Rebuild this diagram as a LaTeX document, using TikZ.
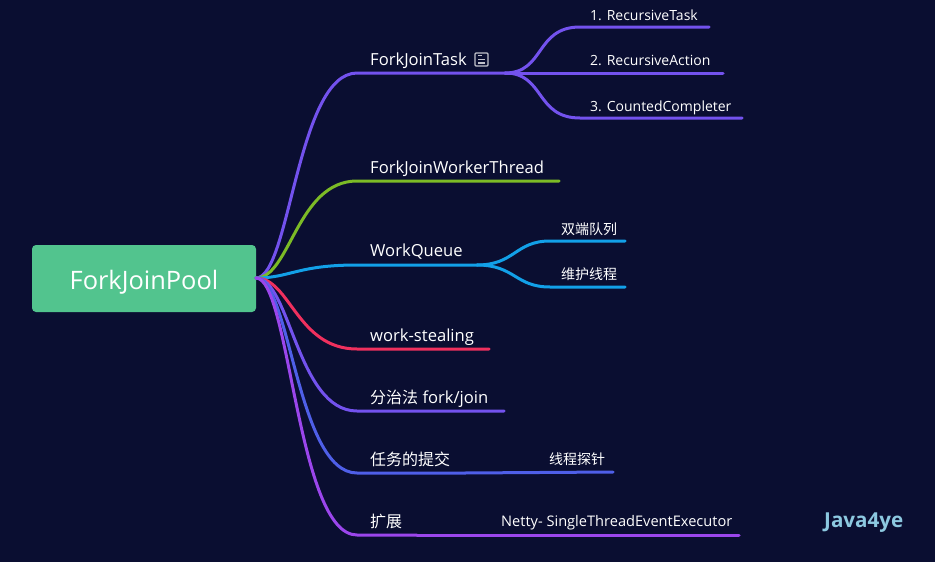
\documentclass[tikz,border=0pt]{standalone}
\usepackage{fontspec}
\setmainfont{Open Sans}
\newfontfamily\cjkfont{Noto Sans CJK SC}
\usetikzlibrary{positioning}
\definecolor{canvas}{HTML}{0A0E31}
\definecolor{rootgreen}{HTML}{52C48E}
\definecolor{violetline}{HTML}{7352EE}
\definecolor{greenline}{HTML}{7CBB26}
\definecolor{blueline}{HTML}{12A0E8}
\definecolor{redline}{HTML}{F0305E}
\definecolor{slateline}{HTML}{4F5FE8}
\definecolor{purpleline}{HTML}{9B46EC}
\definecolor{markblue}{HTML}{8CC8E0}
\tikzset{
  root/.style={
    rectangle,
    rounded corners=4pt,
    fill=rootgreen,
    text=white,
    minimum width=224pt,
    minimum height=67pt,
    inner sep=0pt,
    text height=21pt,
    text depth=0pt,
    font=\fontsize{25.4}{30}\selectfont
  },
  topic/.style={
    anchor=base west,
    text=white,
    inner sep=0pt,
    font=\fontsize{16.6}{20}\selectfont
  },
  leaf/.style={
    anchor=base west,
    text=white,
    inner sep=0pt,
    font=\fontsize{14}{17}\selectfont
  },
  branch/.style={line width=3pt, draw=#1, line cap=round}
}

\begin{document}
\begin{tikzpicture}[x=1pt,y=-1pt]

\fill[canvas] (0,0) rectangle (935,562);
\useasboundingbox (0,0) rectangle (935,562);

\node[root] (pool) at (144,278.5) {ForkJoinPool};
\coordinate (hub) at (256,278);

\node[topic] (task) at (370,65) {ForkJoinTask};
\node[topic] (thread) at (370,173) {ForkJoinWorkerThread};
\node[topic] (queue) at (370,256) {WorkQueue};
\node[topic] (stealing) at (370,341) {work-stealing};
\node[topic] (divide) at (370,403) {{\cjkfont\fontsize{16}{20}\selectfont 分治法} fork/join};
\node[topic, font=\fontsize{16}{20}\selectfont] (submit) at (370,465) {\cjkfont 任务的提交};
\node[topic, font=\fontsize{16}{20}\selectfont] (extend) at (370,527) {\cjkfont 扩展};

\node[leaf] (recursive) at (590,20) {1. RecursiveTask};
\node[leaf] (action) at (590,65) {2. RecursiveAction};
\node[leaf] (completer) at (590,111) {3. CountedCompleter};
\node[leaf] (deque) at (561,234) {\cjkfont 双端队列};
\node[leaf] (maintain) at (561,279) {\cjkfont 维护线程};
\node[leaf] (probe) at (549,464) {\cjkfont 线程探针};
\node[leaf, font=\fontsize{14.6}{17}\selectfont] (netty) at (501,526) {Netty- SingleThreadEventExecutor};

\node[anchor=base west, text=markblue, inner sep=0pt, font=\fontsize{20.6}{24}\selectfont\bfseries] (mark) at (824,527) {Java4ye};

% note icon next to ForkJoinTask
\node[draw=white!75!canvas, line width=1.2pt, rounded corners=1pt, minimum width=13pt, minimum height=13pt, inner sep=0pt] (note) at (481.5,59.5) {};
\draw[white!75!canvas, line width=1.2pt] (478,55.5) -- (482,55.5) (478,59.5) -- (485,59.5) (478,63) -- (485,63);

\coordinate (taskfork) at (505,73);
\coordinate (queuefork) at (477,265);
\coordinate (submitfork) at (465,473);
\coordinate (extendfork) at (417,535);

% main branches
\draw[branch=violetline] (hub) .. controls (290,278) and (297,73) .. (357,73) -- (taskfork);
\draw[branch=greenline] (hub) .. controls (290,278) and (297,181) .. (357,181) -- (559,181);
\draw[branch=blueline] (hub) .. controls (290,278) and (297,265) .. (357,265) -- (queuefork);
\draw[branch=redline] (hub) .. controls (290,278) and (297,349) .. (357,349) -- (489,349);
\draw[branch=violetline] (hub) .. controls (290,278) and (297,411) .. (357,411) -- (504,411);
\draw[branch=slateline] (hub) .. controls (290,278) and (297,473) .. (357,473) -- (submitfork);
\draw[branch=purpleline] (hub) .. controls (290,278) and (297,535) .. (357,535) -- (extendfork);

% sub branches
\draw[branch=violetline] (taskfork) .. controls (545,73) and (535,27) .. (580,27) -- (709,27);
\draw[branch=violetline] (taskfork) -- (723,73);
\draw[branch=violetline] (taskfork) .. controls (545,73) and (535,118) .. (580,118) -- (742,118);
\draw[branch=blueline] (queuefork) .. controls (515,265) and (515,241) .. (550,241) -- (625,241);
\draw[branch=blueline] (queuefork) .. controls (515,265) and (515,287) .. (550,287) -- (625,287);
\draw[branch=slateline] (submitfork) -- (613,472);
\draw[branch=purpleline] (extendfork) -- (739,535);

\end{tikzpicture}
\end{document}
